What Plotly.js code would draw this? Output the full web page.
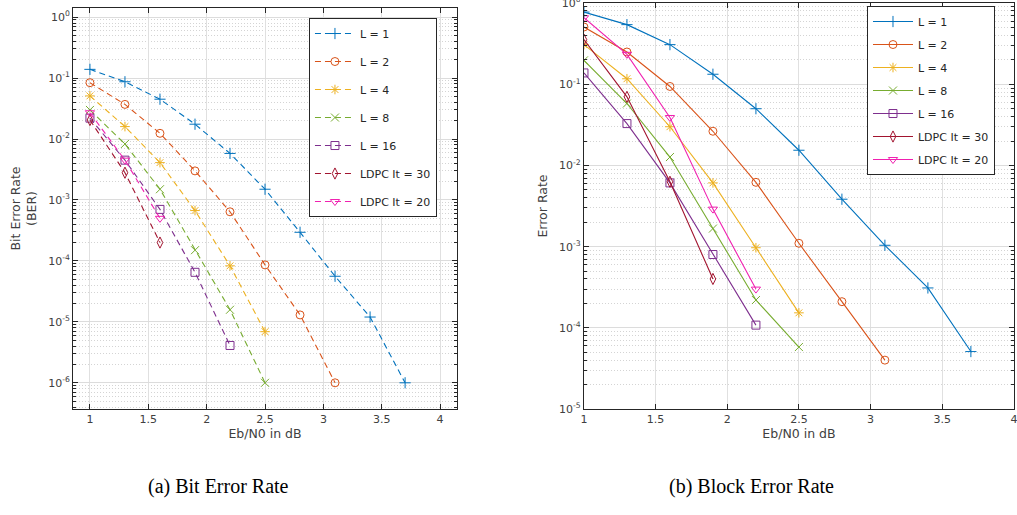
<!DOCTYPE html>
<html>
<head>
<meta charset="utf-8">
<script src="https://cdn.plot.ly/plotly-3.0.1.min.js"></script>
<style>html,body{margin:0;padding:0;background:#fff;}#chart{width:1017px;height:515px;}</style>
</head>
<body>
<div id="chart"></div>
<script>
// ---- Data ----
const ebn0 = [1, 1.3, 1.6, 1.9, 2.2, 2.5, 2.8, 3.1, 3.4, 3.7];
const seriesNames = ["L = 1", "L = 2", "L = 4", "L = 8", "L = 16", "LDPC It = 30", "LDPC It = 20"];

// (a) Bit Error Rate
const berL1  = [0.139, 0.087, 0.045, 0.0175, 0.0058, 0.0015, 2.95e-4, 5.6e-5, 1.2e-5, 1e-6];
const berL2  = [0.084, 0.037, 0.0124, 0.003, 6.4e-4, 8.6e-5, 1.3e-5, 1e-6];
const berL4  = [0.051, 0.016, 0.0041, 6.7e-4, 8.3e-5, 6.9e-6];
const berL8  = [0.03, 0.0083, 0.0015, 1.5e-4, 1.58e-5, 1e-6];
const berL16 = [0.022, 0.0045, 7e-4, 6.5e-5, 4.1e-6];
const berLdpc30 = [0.0205, 0.0028, 2e-4];
const berLdpc20 = [0.027, 0.0045, 5e-4];

// (b) Block Error Rate
const blerL1  = [0.776, 0.543, 0.308, 0.133, 0.050, 0.0154, 0.00384, 1.04e-3, 3.1e-4, 5.1e-5];
const blerL2  = [0.508, 0.25, 0.094, 0.0264, 0.0062, 1.1e-3, 2.1e-4, 4.0e-5];
const blerL4  = [0.308, 0.117, 0.030, 0.0061, 9.7e-4, 1.53e-4];
const blerL8  = [0.197, 0.058, 0.0127, 1.67e-3, 2.2e-4, 5.8e-5];
const blerL16 = [0.138, 0.0328, 0.0061, 8.0e-4, 1.08e-4];
const blerLdpc30 = [0.355, 0.07, 0.0063, 4.0e-4];
const blerLdpc20 = [0.66, 0.234, 0.039, 2.9e-3, 3.0e-4];

const yTickVals = [1, 0.1, 0.01, 1e-3, 1e-4, 1e-5, 1e-6];
const yTickText = ["10<sup>0</sup>", "10<sup>-1</sup>", "10<sup>-2</sup>", "10<sup>-3</sup>", "10<sup>-4</sup>", "10<sup>-5</sup>", "10<sup>-6</sup>"];
const xTickVals = [1, 1.5, 2, 2.5, 3, 3.5, 4];
const xTickText = ["1", "1.5", "2", "2.5", "3", "3.5", "4"];

// minor (log) grid positions: 2..9 x each decade
const yMinorVals = [];
for (let e = -7; e <= 0; e++) {
  for (let k = 2; k <= 9; k++) yMinorVals.push(k * Math.pow(10, e));
}

// ---- Styles ----
const colors = ["#0072BD", "#D95319", "#EDB120", "#77AC30", "#7E2F8E", "#A2142F", "#F020B0"];
const symbols = ["cross-thin-open", "circle-open", "asterisk-open", "x-thin-open", "square-open", "diamond-tall-open", "triangle-down-open"];

const berData = [berL1, berL2, berL4, berL8, berL16, berLdpc30, berLdpc20];
const blerData = [blerL1, blerL2, blerL4, blerL8, blerL16, blerLdpc30, blerLdpc20];

const traces = [];
berData.forEach((ys, i) => {
  traces.push({
    x: ebn0.slice(0, ys.length), y: ys, type: "scatter", mode: "lines+markers",
    name: seriesNames[i], xaxis: "x", yaxis: "y", legend: "legend", legendgroup: "a" + i,
    line: {color: colors[i], width: 1.1, dash: "6px,4px"},
    marker: {symbol: symbols[i], size: 8, color: colors[i], line: {color: colors[i], width: 1}}
  });
});
blerData.forEach((ys, i) => {
  traces.push({
    x: ebn0.slice(0, ys.length), y: ys, type: "scatter", mode: "lines+markers",
    name: seriesNames[i], xaxis: "x2", yaxis: "y2", legend: "legend2", legendgroup: "b" + i,
    line: {color: colors[i], width: 1.1},
    marker: {symbol: symbols[i], size: 8, color: colors[i], line: {color: colors[i], width: 1}}
  });
});

const fontFam = "DejaVu Sans, sans-serif";
const txtCol = "#404040";
const axisCol = "#262626";

function xAxis(domain, range, anchor) {
  return {
    domain: domain, range: range, anchor: anchor, type: "linear",
    tickvals: xTickVals, ticktext: xTickText, ticklabeloverflow: "allow",
    ticks: "inside", ticklen: 5, tickcolor: axisCol, tickwidth: 1,
    showline: true, linecolor: axisCol, linewidth: 1, mirror: "ticks",
    showgrid: true, gridcolor: "#e0e0e0", gridwidth: 1, zeroline: false,
    tickfont: {family: fontFam, size: 11, color: txtCol},
    title: {text: "Eb/N0 in dB", font: {family: fontFam, size: 12.5, color: txtCol}, standoff: 4}
  };
}
function yAxis(domain, range, anchor, title) {
  return {
    domain: domain, range: range, anchor: anchor, type: "log",
    tickvals: yTickVals, ticktext: yTickText, ticklabeloverflow: "allow",
    ticks: "inside", ticklen: 5, tickcolor: axisCol, tickwidth: 1,
    showline: true, linecolor: axisCol, linewidth: 1, mirror: "ticks",
    showgrid: true, gridcolor: "#dcdcdc", gridwidth: 1, zeroline: false,
    minor: {tickmode: "array", tickvals: yMinorVals, ticks: "inside", ticklen: 3, tickcolor: axisCol,
            showgrid: true, gridcolor: "#d4d4d4", griddash: "1px,2px", gridwidth: 1},
    tickfont: {family: fontFam, size: 11, color: txtCol},
    title: {text: title, font: {family: fontFam, size: 12.5, color: txtCol}, standoff: 8}
  };
}

const legendCommon = {
  bgcolor: "#ffffff", bordercolor: axisCol, borderwidth: 1,
  font: {family: fontFam, size: 11, color: "#262626"},
  xanchor: "left", yanchor: "top", traceorder: "grouped", itemwidth: 40,
  itemclick: false
};

const layout = {
  width: 1017, height: 515,
  margin: {l: 0, r: 0, t: 0, b: 0},
  paper_bgcolor: "#ffffff", plot_bgcolor: "#ffffff",
  showlegend: true,
  xaxis: xAxis([0.0718, 0.4494], [0.855, 4.145], "y"),
  yaxis: yAxis([0.2058, 0.9845], [-6.43, 0.15], "x", "Bit Error Rate<br>(BER)"),
  xaxis2: xAxis([0.5742, 0.997], [1, 4.0005], "y2"),
  yaxis2: yAxis([0.2058, 0.9942], [-5, 0.0015], "x2", "Error Rate"),
  legend: Object.assign({}, legendCommon, {x: 0.3038, y: 0.965, tracegroupgap: 9}),
  legend2: Object.assign({}, legendCommon, {x: 0.8525, y: 0.9883, tracegroupgap: 4}),
  annotations: [
    {text: "(a) Bit Error Rate", xref: "paper", yref: "paper", x: 0.2144, y: 0.0544, showarrow: false,
     xanchor: "center", yanchor: "middle", font: {family: "Liberation Serif, serif", size: 20, color: "#000"}},
    {text: "(b) Block Error Rate", xref: "paper", yref: "paper", x: 0.7385, y: 0.0544, showarrow: false,
     xanchor: "center", yanchor: "middle", font: {family: "Liberation Serif, serif", size: 20, color: "#000"}}
  ]
};

Plotly.newPlot("chart", traces, layout, {displayModeBar: false, staticPlot: true});
</script>
</body>
</html>
